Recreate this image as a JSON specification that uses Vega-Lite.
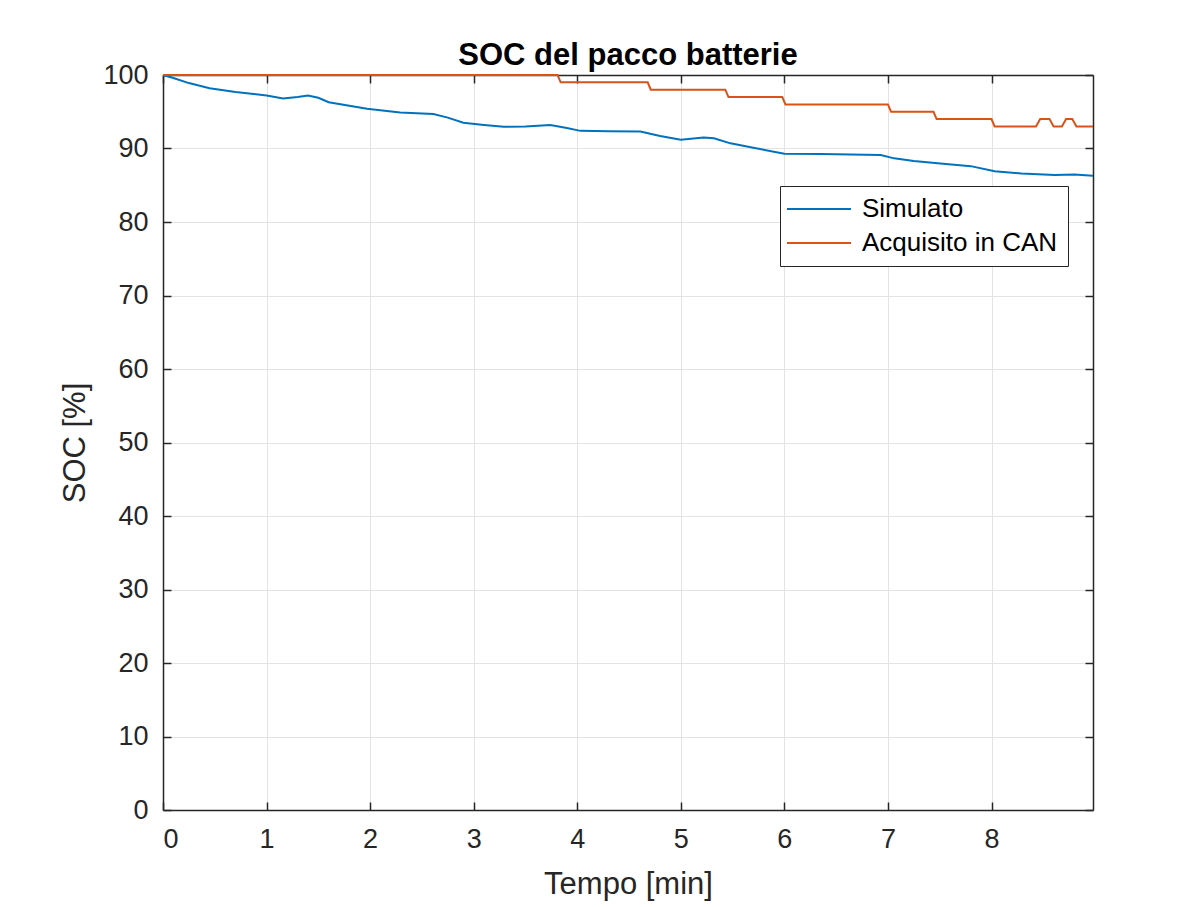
{
  "$schema": "https://vega.github.io/schema/vega-lite/v6.json",
  "width": 930,
  "height": 735,
  "autosize": {"type": "none"},
  "padding": {"left": 163, "top": 75, "right": 110, "bottom": 97},
  "background": "white",
  "title": {
    "text": "SOC del pacco batterie",
    "anchor": "middle",
    "font": "Liberation Sans",
    "fontSize": 31,
    "fontWeight": "bold",
    "color": "#000000",
    "offset": -11
  },
  "data": {
    "values": [
      {"t": 0, "soc": 100, "serie": "Simulato"},
      {"t": 0.1, "soc": 99.6, "serie": "Simulato"},
      {"t": 0.25, "soc": 98.9, "serie": "Simulato"},
      {"t": 0.45, "soc": 98.2, "serie": "Simulato"},
      {"t": 0.7, "soc": 97.7, "serie": "Simulato"},
      {"t": 1.0, "soc": 97.2, "serie": "Simulato"},
      {"t": 1.16, "soc": 96.8, "serie": "Simulato"},
      {"t": 1.3, "soc": 97.0, "serie": "Simulato"},
      {"t": 1.4, "soc": 97.2, "serie": "Simulato"},
      {"t": 1.5, "soc": 96.9, "serie": "Simulato"},
      {"t": 1.6, "soc": 96.3, "serie": "Simulato"},
      {"t": 1.97, "soc": 95.4, "serie": "Simulato"},
      {"t": 2.29, "soc": 94.9, "serie": "Simulato"},
      {"t": 2.61, "soc": 94.7, "serie": "Simulato"},
      {"t": 2.75, "soc": 94.2, "serie": "Simulato"},
      {"t": 2.9, "soc": 93.5, "serie": "Simulato"},
      {"t": 3.1, "soc": 93.2, "serie": "Simulato"},
      {"t": 3.29, "soc": 92.95, "serie": "Simulato"},
      {"t": 3.5, "soc": 93.0, "serie": "Simulato"},
      {"t": 3.74, "soc": 93.2, "serie": "Simulato"},
      {"t": 3.9, "soc": 92.8, "serie": "Simulato"},
      {"t": 4.03, "soc": 92.4, "serie": "Simulato"},
      {"t": 4.3, "soc": 92.35, "serie": "Simulato"},
      {"t": 4.61, "soc": 92.3, "serie": "Simulato"},
      {"t": 4.8, "soc": 91.7, "serie": "Simulato"},
      {"t": 5.0, "soc": 91.2, "serie": "Simulato"},
      {"t": 5.22, "soc": 91.5, "serie": "Simulato"},
      {"t": 5.32, "soc": 91.4, "serie": "Simulato"},
      {"t": 5.48, "soc": 90.7, "serie": "Simulato"},
      {"t": 5.7, "soc": 90.1, "serie": "Simulato"},
      {"t": 6.0, "soc": 89.3, "serie": "Simulato"},
      {"t": 6.35, "soc": 89.25, "serie": "Simulato"},
      {"t": 6.93, "soc": 89.1, "serie": "Simulato"},
      {"t": 7.06, "soc": 88.66, "serie": "Simulato"},
      {"t": 7.25, "soc": 88.3, "serie": "Simulato"},
      {"t": 7.48, "soc": 87.98, "serie": "Simulato"},
      {"t": 7.8, "soc": 87.6, "serie": "Simulato"},
      {"t": 8.03, "soc": 86.9, "serie": "Simulato"},
      {"t": 8.29, "soc": 86.6, "serie": "Simulato"},
      {"t": 8.61, "soc": 86.4, "serie": "Simulato"},
      {"t": 8.8, "soc": 86.45, "serie": "Simulato"},
      {"t": 8.98, "soc": 86.3, "serie": "Simulato"},
      {"t": 0, "soc": 100, "serie": "Acquisito in CAN"},
      {"t": 3.81, "soc": 100, "serie": "Acquisito in CAN"},
      {"t": 3.84, "soc": 99, "serie": "Acquisito in CAN"},
      {"t": 4.68, "soc": 99, "serie": "Acquisito in CAN"},
      {"t": 4.71, "soc": 98, "serie": "Acquisito in CAN"},
      {"t": 5.43, "soc": 98, "serie": "Acquisito in CAN"},
      {"t": 5.46, "soc": 97, "serie": "Acquisito in CAN"},
      {"t": 5.98, "soc": 97, "serie": "Acquisito in CAN"},
      {"t": 6.01, "soc": 96, "serie": "Acquisito in CAN"},
      {"t": 7.0, "soc": 96, "serie": "Acquisito in CAN"},
      {"t": 7.03, "soc": 95, "serie": "Acquisito in CAN"},
      {"t": 7.44, "soc": 95, "serie": "Acquisito in CAN"},
      {"t": 7.47, "soc": 94, "serie": "Acquisito in CAN"},
      {"t": 8.0, "soc": 94, "serie": "Acquisito in CAN"},
      {"t": 8.03, "soc": 93, "serie": "Acquisito in CAN"},
      {"t": 8.43, "soc": 93, "serie": "Acquisito in CAN"},
      {"t": 8.47, "soc": 94, "serie": "Acquisito in CAN"},
      {"t": 8.56, "soc": 94, "serie": "Acquisito in CAN"},
      {"t": 8.6, "soc": 93, "serie": "Acquisito in CAN"},
      {"t": 8.68, "soc": 93, "serie": "Acquisito in CAN"},
      {"t": 8.72, "soc": 94, "serie": "Acquisito in CAN"},
      {"t": 8.78, "soc": 94, "serie": "Acquisito in CAN"},
      {"t": 8.82, "soc": 93, "serie": "Acquisito in CAN"},
      {"t": 8.98, "soc": 93, "serie": "Acquisito in CAN"}
    ]
  },
  "layer": [
    {
      "mark": {"type": "line", "strokeWidth": 2},
      "encoding": {
        "x": {
          "field": "t", "type": "quantitative",
          "scale": {"domain": [0, 8.98], "nice": false, "zero": false},
          "axis": {
            "orient": "bottom", "title": "Tempo [min]", "values": [0,1,2,3,4,5,6,7,8],
            "grid": true, "tickSize": -8, "labelPadding": 24, "titlePadding": 17
          }
        },
        "y": {
          "field": "soc", "type": "quantitative",
          "scale": {"domain": [0, 100], "nice": false},
          "axis": {
            "orient": "left", "title": "SOC [%]", "values": [0,10,20,30,40,50,60,70,80,90,100],
            "grid": true, "tickSize": -8, "labelPadding": 23, "titlePadding": 11
          }
        },
        "color": {
          "field": "serie", "type": "nominal",
          "scale": {"domain": ["Simulato", "Acquisito in CAN"], "range": ["#0072BD", "#D95319"]},
          "legend": {
            "title": null, "orient": "none", "legendX": 617, "legendY": 111,
            "symbolType": "M-4,0H4", "symbolSize": 256, "symbolStrokeWidth": 2,
            "symbolOffset": 16, "labelOffset": 30, "labelLimit": 400,
            "labelFontSize": 26, "labelFont": "Liberation Sans", "labelColor": "#000000",
            "strokeColor": "#262626", "fillColor": "#ffffff", "padding": 10, "rowPadding": 8
          }
        }
      }
    },
    {
      "mark": {"type": "line", "opacity": 0},
      "encoding": {
        "x": {
          "field": "t", "type": "quantitative",
          "axis": {"orient": "top", "title": null, "labels": false, "grid": false, "values": [0,1,2,3,4,5,6,7,8], "tickSize": -8}
        },
        "y": {
          "field": "soc", "type": "quantitative",
          "axis": {"orient": "right", "title": null, "labels": false, "grid": false, "values": [0,10,20,30,40,50,60,70,80,90,100], "tickSize": -8}
        }
      }
    }
  ],
  "resolve": {"axis": {"x": "independent", "y": "independent"}},
  "config": {
    "view": {"stroke": null},
    "axis": {
      "labelFont": "Liberation Sans", "titleFont": "Liberation Sans",
      "labelFontSize": 27, "titleFontSize": 31, "titleFontWeight": "normal",
      "labelColor": "#262626", "titleColor": "#262626",
      "domainColor": "#262626", "domainWidth": 1.5, "tickColor": "#262626", "tickWidth": 1.5,
      "gridColor": "#e3e3e3", "gridWidth": 1
    }
  }
}
